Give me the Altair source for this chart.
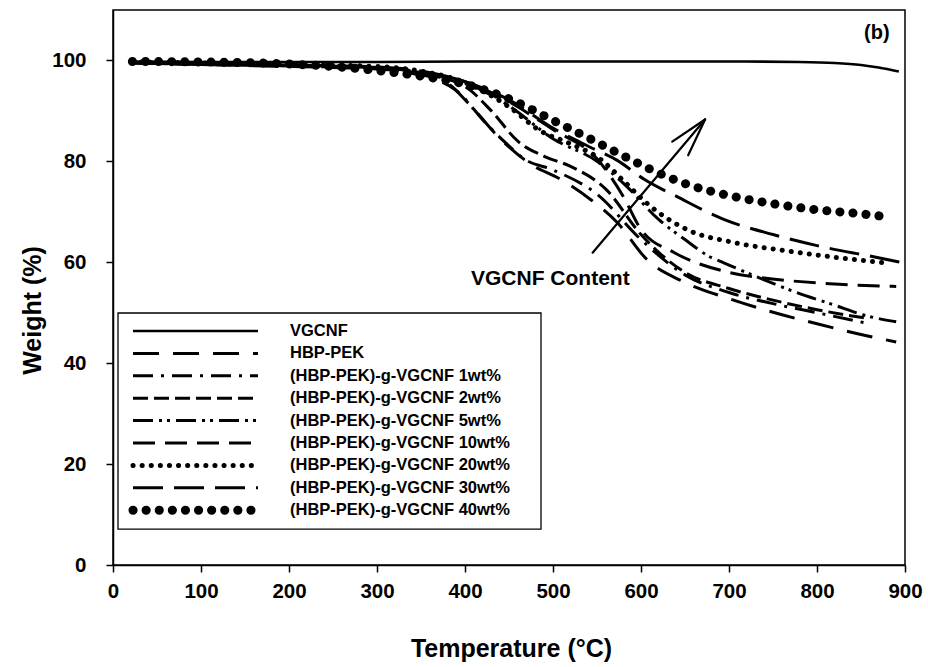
import altair as alt
import pandas as pd

# ---- data (Temperature in degC, Weight in %) ----
T_VGCNF = [22, 100, 200, 300, 400, 500, 600, 700, 780, 820, 850, 870, 893]
W_VGCNF = [99.8, 99.7, 99.7, 99.7, 99.8, 99.8, 99.8, 99.8, 99.7, 99.5, 99.1, 98.6, 97.8]

T_PEK = [22, 100, 200, 300, 350, 380, 404, 440, 475, 509, 543, 573, 607, 650, 700, 740, 800, 850, 890]
W_PEK = [99.5, 99.2, 98.8, 98.3, 97.2, 95.5, 91.5, 84.5, 79.4, 76.4, 72.4, 67.9, 60.5, 56.0, 52.8, 50.6, 47.8, 45.7, 44.2]

T_1 = [22, 100, 200, 300, 350, 370, 389, 423, 446, 468, 500, 550, 600, 650, 700, 750, 800, 860]
W_1 = [99.6, 99.3, 99.0, 98.4, 97.0, 96.0, 94.2, 87.7, 83.7, 80.4, 78.3, 73.5, 64.5, 57.5, 54.0, 51.8, 50.0, 47.8]

T_2 = [22, 100, 200, 300, 350, 400, 430, 460, 490, 520, 560, 600, 650, 700, 750, 800, 860]
W_2 = [99.5, 99.2, 98.9, 98.4, 97.4, 94.8, 90.0, 84.0, 81.0, 79.0, 74.5, 65.5, 58.0, 54.8, 52.5, 50.6, 48.8]

T_5 = [22, 100, 200, 300, 350, 400, 450, 500, 550, 581, 620, 650, 678, 694, 740, 777, 820, 852, 890]
W_5 = [99.6, 99.3, 99.0, 98.6, 97.6, 95.6, 91.0, 84.5, 80.0, 75.5, 68.5, 64.5, 61.1, 59.9, 56.5, 54.0, 51.5, 49.6, 48.2]

T_10 = [22, 100, 200, 300, 350, 400, 450, 500, 550, 580, 600, 638, 700, 760, 820, 890]
W_10 = [99.6, 99.3, 99.0, 98.6, 97.7, 95.8, 91.8, 86.3, 80.5, 73.0, 66.5, 61.9, 58.0, 56.5, 55.7, 55.2]

T_20 = [22, 100, 200, 300, 350, 400, 450, 486, 517, 554, 581, 608, 652, 706, 760, 820, 882]
W_20 = [99.7, 99.5, 99.2, 98.8, 97.9, 95.6, 90.8, 86.0, 83.7, 80.4, 76.0, 71.5, 66.5, 63.9, 62.4, 61.0, 59.8]

T_30 = [22, 100, 200, 300, 350, 400, 450, 500, 540, 573, 604, 641, 694, 750, 800, 867, 895]
W_30 = [99.6, 99.4, 99.1, 98.7, 97.9, 95.8, 92.2, 86.6, 83.0, 80.2, 76.4, 73.0, 68.5, 65.5, 63.3, 61.0, 60.0]

T_40 = [22, 100, 200, 250, 300, 350, 400, 450, 505, 543, 581, 611, 650, 706, 750, 800, 850, 885]
W_40 = [99.8, 99.7, 99.3, 98.8, 98.0, 96.9, 95.3, 92.4, 87.7, 84.4, 81.0, 78.4, 75.6, 73.0, 71.6, 70.4, 69.6, 68.9]

LABELS = ["VGCNF", "HBP-PEK",
          "(HBP-PEK)-g-VGCNF 1wt%", "(HBP-PEK)-g-VGCNF 2wt%",
          "(HBP-PEK)-g-VGCNF 5wt%", "(HBP-PEK)-g-VGCNF 10wt%",
          "(HBP-PEK)-g-VGCNF 20wt%", "(HBP-PEK)-g-VGCNF 30wt%",
          "(HBP-PEK)-g-VGCNF 40wt%"]

X_TICKS = [0, 100, 200, 300, 400, 500, 600, 700, 800, 900]
Y_TICKS = [0, 20, 40, 60, 80, 100]

# arrow ("VGCNF Content") in data units: segments (x, y, x2, y2)
ARROW_X = [545.0, 672.8, 672.8]
ARROW_Y = [61.9, 88.3, 88.3]
ARROW_X2 = [672.8, 635.5, 653.6]
ARROW_Y2 = [88.3, 83.9, 81.2]
NOTE_T, NOTE_W, NOTE_TEXT = 497, 56.7, "VGCNF Content"
PANEL_T, PANEL_W, PANEL_TEXT = 868, 105.4, "(b)"

SERIES_T = [T_VGCNF, T_PEK, T_1, T_2, T_5, T_10, T_20, T_30, T_40]
SERIES_W = [W_VGCNF, W_PEK, W_1, W_2, W_5, W_10, W_20, W_30, W_40]

# ---- styles ----
FONT = "Liberation Sans"
STYLES = [
    dict(strokeWidth=2.6, strokeCap="butt"),
    dict(strokeWidth=3, strokeDash=[26, 14], strokeCap="butt"),
    dict(strokeWidth=3, strokeDash=[20, 8, 3, 8], strokeCap="butt"),
    dict(strokeWidth=3, strokeDash=[15, 6], strokeCap="butt"),
    dict(strokeWidth=3, strokeDash=[20, 6, 3, 5, 3, 6], strokeCap="butt"),
    dict(strokeWidth=3, strokeDash=[22, 10], strokeCap="butt"),
    dict(strokeWidth=5, strokeDash=[0.1, 9], strokeCap="round"),
    dict(strokeWidth=3, strokeDash=[30, 11], strokeCap="butt"),
    dict(strokeWidth=9, strokeDash=[0.1, 13], strokeCap="round"),
]

X_SCALE = alt.Scale(domain=[0, 900], nice=False, zero=False)
Y_SCALE = alt.Scale(domain=[0, 110], nice=False, zero=True)

x_axis = alt.Axis(values=X_TICKS, title="Temperature (°C)", grid=False, tickSize=7,
                  tickWidth=1.5, domainWidth=1.5, domainColor="black", tickColor="black",
                  labelFont=FONT, labelFontSize=20.5, labelFontWeight="bold", labelColor="black",
                  labelPadding=9, labelFlush=False, labelOverlap=False,
                  titleFont=FONT, titleFontSize=25, titleFontWeight="bold", titleColor="black",
                  titleX=398, titleY=83, titleBaseline="middle", titleAnchor="middle")
y_axis = alt.Axis(values=Y_TICKS, title="Weight (%)", grid=False, tickSize=7,
                  tickWidth=1.5, domainWidth=1.5, domainColor="black", tickColor="black",
                  labelFont=FONT, labelFontSize=20.5, labelFontWeight="bold", labelColor="black",
                  labelPadding=20, labelFlush=False, labelOverlap=False,
                  titleFont=FONT, titleFontSize=25, titleFontWeight="bold", titleColor="black",
                  titleX=-81, titleY=300, titleBaseline="middle", titleAnchor="middle", titleAngle=-90)


def X(field):
    return alt.X(field, scale=X_SCALE, axis=x_axis)


def Y(field):
    return alt.Y(field, scale=Y_SCALE, axis=y_axis)


layers = []
for i, (ts, ws) in enumerate(zip(SERIES_T, SERIES_W)):
    df = pd.DataFrame({"T": ts, "W": ws})
    layers.append(
        alt.Chart(df).mark_line(color="black", interpolate="monotone", **STYLES[i])
        .encode(x=X("T:Q"), y=Y("W:Q"))
    )

# arrow
arrow_df = pd.DataFrame({"T": ARROW_X, "W": ARROW_Y, "T2": ARROW_X2, "W2": ARROW_Y2})
layers.append(
    alt.Chart(arrow_df).mark_rule(color="black", strokeWidth=2.2, strokeCap="round")
    .encode(x=X("T:Q"), y=Y("W:Q"), x2="T2:Q", y2="W2:Q")
)
# annotation texts
note_df = pd.DataFrame({"T": [NOTE_T], "W": [NOTE_W], "t": [NOTE_TEXT]})
layers.append(
    alt.Chart(note_df).mark_text(font=FONT, fontSize=21, fontWeight="bold", color="black",
                                 align="center", baseline="middle")
    .encode(x=X("T:Q"), y=Y("W:Q"), text="t:N")
)
panel_df = pd.DataFrame({"T": [PANEL_T], "W": [PANEL_W], "t": [PANEL_TEXT]})
layers.append(
    alt.Chart(panel_df).mark_text(font=FONT, fontSize=20, fontWeight="bold", color="black",
                                  align="center", baseline="middle")
    .encode(x=X("T:Q"), y=Y("W:Q"), text="t:N")
)

# legend box and entries (layout in plot pixels)
LEG_TOP = 303
ROW0 = 321
ROW_STEP = 22.4
LEG_BOTTOM = ROW0 + ROW_STEP * 8 + 19
layers.append(
    alt.Chart(pd.DataFrame({"a": [0]})).mark_rect(fill="white", stroke="black", strokeWidth=1.3)
    .encode(x=alt.value(5), x2=alt.value(428), y=alt.value(LEG_TOP), y2=alt.value(LEG_BOTTOM))
)
for i, lab in enumerate(LABELS):
    yy = ROW0 + ROW_STEP * i
    layers.append(
        alt.Chart(pd.DataFrame({"a": [0]})).mark_rule(color="black", **STYLES[i])
        .encode(x=alt.value(20), x2=alt.value(145), y=alt.value(yy))
    )
    layers.append(
        alt.Chart(pd.DataFrame({"a": [0]})).mark_text(font=FONT, fontSize=16.5, fontWeight="bold",
                                                      color="black", align="left", baseline="middle")
        .encode(x=alt.value(177), y=alt.value(yy), text=alt.value(lab))
    )

chart = alt.layer(*layers).properties(
    width=792, height=555,
    autosize=alt.AutoSizeParams(type="none"),
    padding={"left": 113, "top": 10, "right": 23, "bottom": 102},
    background="white",
).configure_view(stroke="black", strokeWidth=1.5)

chart.save("out.html", embed_options={"renderer": "svg", "actions": False})
